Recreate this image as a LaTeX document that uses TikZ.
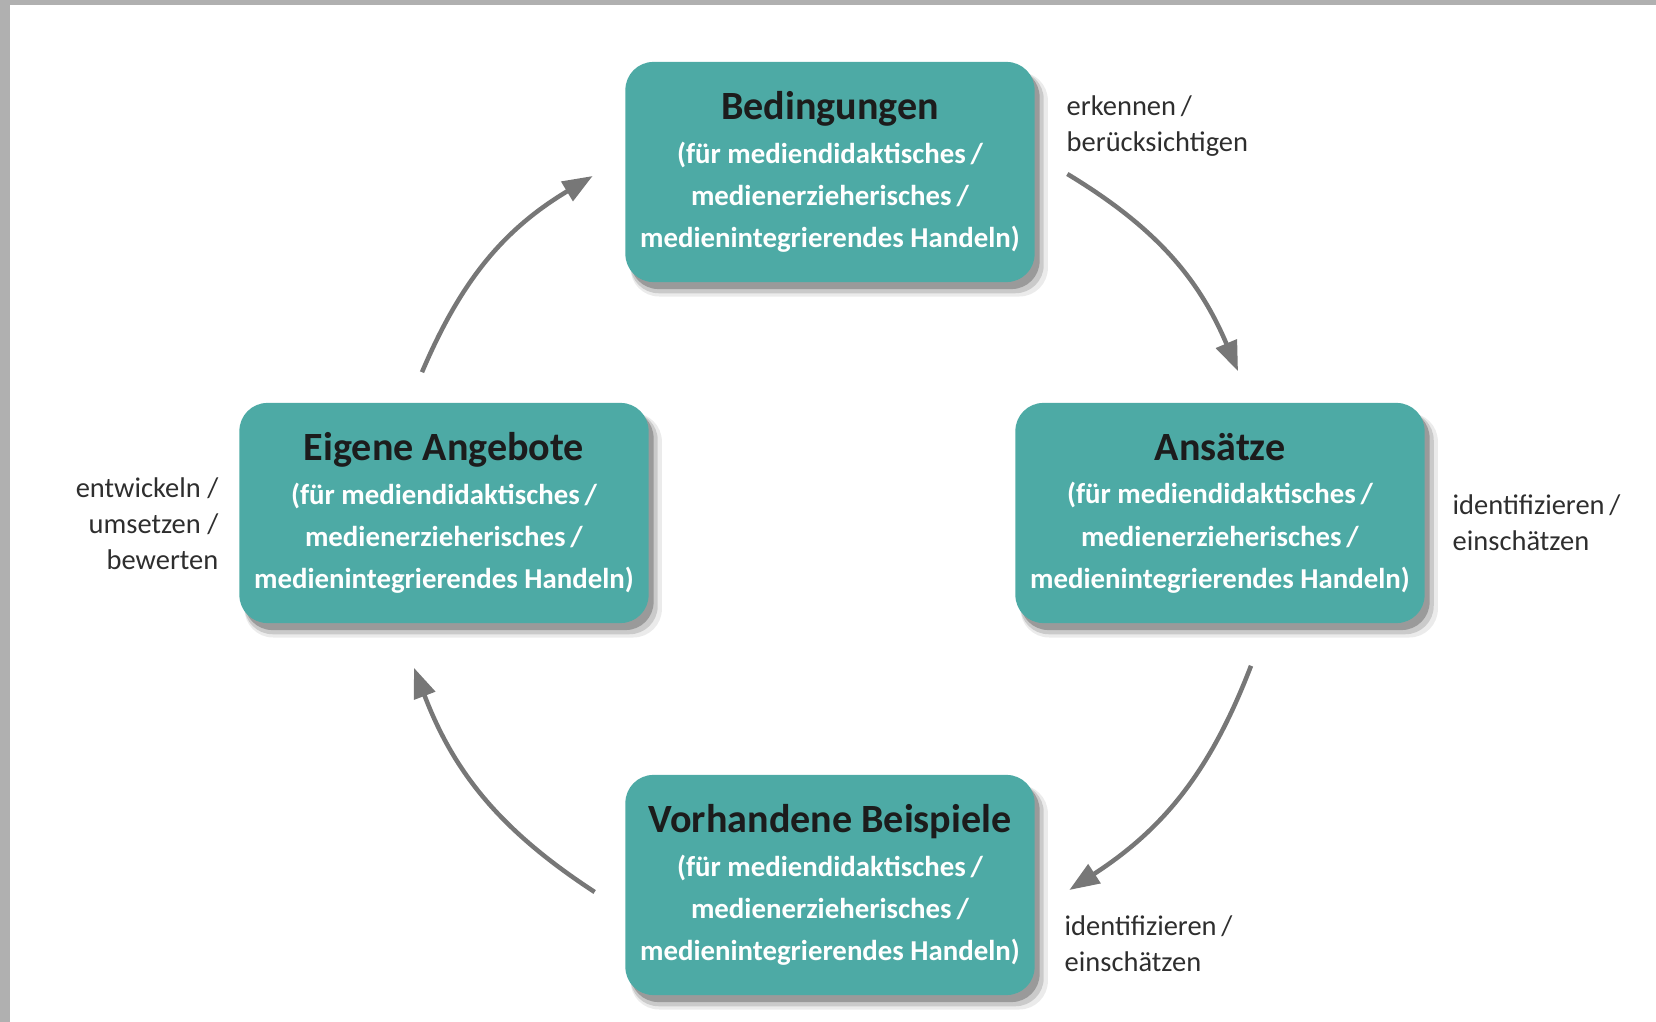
\documentclass[tikz,border=0pt]{standalone}
\usepackage{fontspec}
\setmainfont{Carlito}
\usepackage{tikz}
\usetikzlibrary{positioning, arrows.meta, shadows}
\definecolor{boxTeal}{HTML}{4DAAA5}
\definecolor{titleDark}{HTML}{1C1C1C}
\definecolor{labelDark}{HTML}{2E2E2E}
\definecolor{arrowGray}{HTML}{777777}
\definecolor{frameGray}{HTML}{B0B0B0}

\newcommand\stagetitle[1]{{\fontsize{11.4}{13}\selectfont\color{titleDark}#1}}

\begin{document}
\begin{tikzpicture}[
    x=0.01cm, y=-0.01cm,
    stage/.style={rounded corners=0.28cm, fill=boxTeal, text=white, align=center,
      minimum width=4.09cm, minimum height=2.2cm, inner sep=0pt,
      font=\fontsize{8.2}{11.95}\selectfont\bfseries,
      drop shadow={shadow xshift=0.09cm, shadow yshift=-0.12cm, fill=black, opacity=0.08, shadow scale=1.02},
      drop shadow={shadow xshift=0.07cm, shadow yshift=-0.1cm, fill=black, opacity=0.14, shadow scale=1.01},
      drop shadow={shadow xshift=0.05cm, shadow yshift=-0.07cm, fill=black, opacity=0.24}},
    verb/.style={font=\fontsize{8.1}{10.2}\selectfont, text=labelDark, inner sep=0pt},
    cyclearrow/.style={-{Triangle[length=0.3cm, width=0.22cm]}, line width=0.045cm, arrowGray}]
    \useasboundingbox (0,0) rectangle (1656,1022);
    % --- page frame ---
    \fill[frameGray] (0,0) rectangle (10,1022);
    \fill[frameGray] (0,0) rectangle (1656,5);
    % --- the four stages ---
    \def\mx{830} \def\lx{444} \def\rx{1220}
    \node[stage] (bed) at (\mx,172) {\stagetitle{Bedingungen}\\[0.5pt]
      (für mediendidaktisches\,/\\ medienerzieherisches\,/\\ medienintegrierendes Handeln)};
    \node[stage] (ans) at (\rx,513) {\stagetitle{Ansätze}\\[0.5pt]
      (für mediendidaktisches\,/\\ medienerzieherisches\,/\\ medienintegrierendes Handeln)};
    \node[stage] (vor) at (\mx,885) {\stagetitle{Vorhandene Beispiele}\\[0.5pt]
      (für mediendidaktisches\,/\\ medienerzieherisches\,/\\ medienintegrierendes Handeln)};
    \node[stage] (eig) at (\lx,513) {\stagetitle{Eigene Angebote}\\[0.5pt]
      (für mediendidaktisches\,/\\ medienerzieherisches\,/\\ medienintegrierendes Handeln)};
    % --- activities ---
    \node[verb, anchor=west, align=left] (lbed) at (1066,126) {erkennen\,/\\ berücksichtigen};
    \node[verb, anchor=west, align=left] (lans) at (1452,523) {identifizieren\,/\\ einschätzen};
    \node[verb, anchor=west, align=left] (lvor) at (1064,944) {identifizieren\,/\\ einschätzen};
    \node[verb, anchor=east, align=right] (leig) at (219,524) {entwickeln /\\ umsetzen /\\ bewerten};
    % --- cycle ---
    \draw[cyclearrow] ([xshift=0.32cm, yshift=-0.02cm]bed.east) to[bend left=18]
      ([xshift=0.18cm, yshift=0.31cm]ans.north);
    \draw[cyclearrow] ([xshift=0.31cm, yshift=-0.42cm]ans.south) to[bend left=18]
      ([xshift=0.34cm, yshift=-0.05cm]vor.east);
    \draw[cyclearrow] ([xshift=-0.30cm, yshift=-0.07cm]vor.west) to[bend left=18]
      ([xshift=-0.30cm, yshift=-0.44cm]eig.south);
    \draw[cyclearrow] ([xshift=-0.22cm, yshift=0.30cm]eig.north) to[bend left=18]
      ([xshift=-0.32cm, yshift=-0.04cm]bed.west);
\end{tikzpicture}
\end{document}
